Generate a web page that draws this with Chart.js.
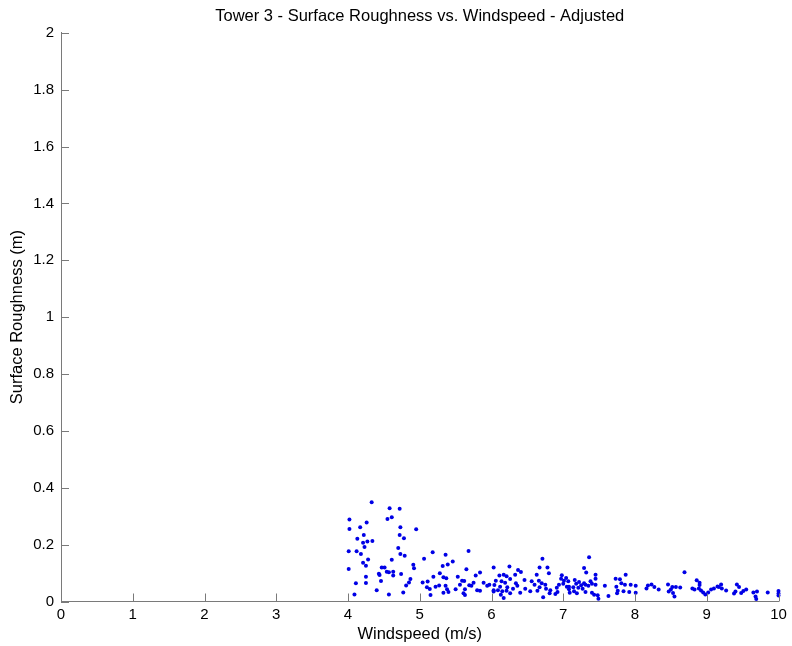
<!DOCTYPE html>
<html>
<head>
<meta charset="utf-8">
<script src="https://cdn.jsdelivr.net/npm/chart.js@4/dist/chart.umd.min.js"></script>
<style>
  html, body { margin: 0; padding: 0; background: #ffffff; }
  #wrap { width: 792px; height: 646px; }
</style>
</head>
<body>
<div id="wrap"><canvas id="c" width="792" height="646"></canvas></div>
<script>
// Windspeed (m/s) and adjusted surface roughness (m), paired sample by sample
const windspeed = [
  4.33, 4.58, 4.72, 4.02, 4.55, 4.61, 4.26, 4.02, 4.17, 4.73, 4.95, 4.22, 4.72, 4.78, 4.13, 4.34,
  4.21, 4.27, 4.23, 4.70, 4.01, 4.12, 4.18, 4.73, 4.79, 4.28, 4.61, 4.21, 4.25, 4.91, 4.92, 4.01,
  4.47, 4.51, 4.43, 4.54, 4.57, 4.63, 4.63, 4.44, 4.74, 4.25, 4.46, 4.87, 4.85, 4.11, 4.25, 4.81,
  4.40, 4.77, 4.09, 4.57,
  5.18, 5.06, 5.36, 5.68, 5.46, 5.39, 5.32, 5.65, 5.19, 5.28, 5.33, 5.37, 5.04, 5.11, 5.53, 5.78,
  5.84, 5.59, 5.62, 5.75, 5.27, 5.36, 5.10, 5.14, 5.22, 5.38, 5.56, 5.69, 5.72, 5.89, 5.94, 5.97,
  5.50, 5.63, 5.80, 5.33, 5.40, 5.61, 5.15, 5.63, 5.84, 6.03,
  6.03, 6.25, 6.71, 6.37, 6.41, 6.67, 6.78, 6.11, 6.17, 6.21, 6.33, 6.63, 6.80, 6.98, 6.06, 6.14,
  6.19, 6.26, 6.34, 6.46, 6.56, 6.66, 6.70, 6.75, 6.97, 7.01, 6.04, 6.12, 6.22, 6.30, 6.36, 6.47,
  6.60, 6.67, 6.76, 6.94, 7.00, 6.03, 6.09, 6.15, 6.21, 6.54, 6.64, 6.82, 6.91, 7.05, 6.17, 6.13,
  6.26, 6.40, 6.72, 6.81, 6.89, 6.92, 7.08,
  7.36, 7.29, 7.32, 7.45, 7.87, 7.45, 7.73, 7.79, 7.04, 7.07, 7.16, 7.22, 7.29, 7.38, 7.40, 7.18,
  7.25, 7.31, 7.81, 7.86, 7.94, 8.01, 7.45, 7.58, 7.08, 7.14, 7.21, 7.27, 7.35, 7.74, 7.76, 7.84,
  7.92, 8.01, 7.09, 7.15, 7.19, 7.31, 7.40, 7.43, 7.48, 7.49, 7.63, 7.75,
  8.69, 8.18, 8.23, 8.27, 8.33, 8.16, 8.46, 8.52, 8.57, 8.63, 8.47, 8.53, 8.55, 8.86, 8.90, 8.80,
  8.83, 8.89, 8.92, 8.95, 8.98, 9.02, 9.06, 9.10, 9.15, 8.50, 8.90,
  9.20, 9.17, 9.21, 9.27, 9.42, 9.45, 9.40, 9.38, 9.48, 9.51, 9.55, 9.65, 9.70, 9.68, 9.69, 9.85,
  10.00, 10.00, 10.00
];
const roughness = [
  0.349, 0.328, 0.326, 0.288, 0.290, 0.296, 0.278, 0.255, 0.261, 0.261, 0.254, 0.234, 0.234, 0.222, 0.221, 0.213,
  0.207, 0.211, 0.192, 0.188, 0.177, 0.177, 0.167, 0.167, 0.161, 0.148, 0.147, 0.136, 0.126, 0.129, 0.117, 0.114,
  0.120, 0.120, 0.098, 0.105, 0.103, 0.105, 0.091, 0.093, 0.097, 0.087, 0.072, 0.079, 0.067, 0.064, 0.065, 0.056,
  0.040, 0.032, 0.025, 0.025,
  0.173, 0.150, 0.164, 0.178, 0.141, 0.130, 0.125, 0.113, 0.087, 0.099, 0.085, 0.082, 0.067, 0.070, 0.087, 0.091,
  0.102, 0.073, 0.072, 0.066, 0.056, 0.055, 0.050, 0.044, 0.052, 0.043, 0.059, 0.057, 0.055, 0.066, 0.055, 0.059,
  0.043, 0.043, 0.040, 0.031, 0.033, 0.029, 0.023, 0.023, 0.038, 0.035,
  0.120, 0.123, 0.150, 0.111, 0.104, 0.120, 0.120, 0.091, 0.094, 0.089, 0.094, 0.094, 0.099, 0.092, 0.073, 0.071,
  0.066, 0.079, 0.064, 0.076, 0.071, 0.073, 0.064, 0.059, 0.080, 0.073, 0.058, 0.052, 0.050, 0.045, 0.055, 0.045,
  0.059, 0.050, 0.045, 0.059, 0.062, 0.040, 0.040, 0.036, 0.038, 0.036, 0.038, 0.040, 0.048, 0.052, 0.012, 0.024,
  0.029, 0.031, 0.015, 0.029, 0.026, 0.033, 0.043,
  0.156, 0.118, 0.102, 0.094, 0.094, 0.080, 0.080, 0.078, 0.083, 0.071, 0.076, 0.069, 0.064, 0.071, 0.062, 0.062,
  0.057, 0.059, 0.064, 0.059, 0.059, 0.055, 0.059, 0.055, 0.052, 0.050, 0.048, 0.045, 0.055, 0.052, 0.038, 0.036,
  0.033, 0.031, 0.031, 0.036, 0.029, 0.033, 0.031, 0.024, 0.022, 0.010, 0.019, 0.029,
  0.103, 0.056, 0.060, 0.051, 0.042, 0.046, 0.060, 0.051, 0.051, 0.049, 0.035, 0.030, 0.018, 0.075, 0.058, 0.046,
  0.042, 0.046, 0.039, 0.032, 0.025, 0.032, 0.042, 0.046, 0.053, 0.042, 0.066,
  0.060, 0.051, 0.046, 0.039, 0.060, 0.051, 0.035, 0.028, 0.030, 0.037, 0.042, 0.032, 0.035, 0.018, 0.009, 0.032,
  0.037, 0.028, 0.021
];
const xTickValues = [0, 1, 2, 3, 4, 5, 6, 7, 8, 9, 10];
const yTickValues = [0, 0.2, 0.4, 0.6, 0.8, 1, 1.2, 1.4, 1.6, 1.8, 2];

const FONT = 'Liberation Sans, Arial, Helvetica, sans-serif';
const AXIS_GREY = '#7a7a7a';
const TICK_LEN = 8;

const points = windspeed.map((w, i) => ({ x: w, y: roughness[i] }));

// Short tick marks drawn inward from the two axis lines
const inwardTicks = {
  id: 'inwardTicks',
  afterDatasetsDraw(chart) {
    const { ctx, chartArea, scales } = chart;
    const { left, bottom } = chartArea;
    ctx.save();
    ctx.strokeStyle = AXIS_GREY;
    ctx.lineWidth = 1;
    ctx.beginPath();
    scales.x.ticks.forEach(t => {
      const px = Math.round(scales.x.getPixelForValue(t.value)) + 0.5;
      ctx.moveTo(px, bottom);
      ctx.lineTo(px, bottom - TICK_LEN);
    });
    scales.y.ticks.forEach(t => {
      const py = Math.round(scales.y.getPixelForValue(t.value)) + 0.5;
      ctx.moveTo(left, py);
      ctx.lineTo(left + TICK_LEN, py);
    });
    ctx.stroke();
    ctx.restore();
  }
};

new Chart(document.getElementById('c'), {
  type: 'scatter',
  data: {
    datasets: [{
      data: points,
      backgroundColor: '#0000e6',
      borderColor: '#0000e6',
      borderWidth: 0,
      pointRadius: 2,
      pointHoverRadius: 2,
      clip: false
    }]
  },
  options: {
    responsive: false,
    animation: false,
    events: [],
    layout: { padding: { left: 0, right: 13.5, top: 0, bottom: 0 } },
    plugins: {
      legend: { display: false },
      tooltip: { enabled: false },
      title: {
        display: true,
        text: 'Tower 3 - Surface Roughness vs. Windspeed - Adjusted',
        color: '#000',
        fullSize: false,
        font: { family: FONT, size: 16.5, weight: 'normal', lineHeight: 1.2 },
        padding: { top: 7, bottom: 6 }
      }
    },
    scales: {
      x: {
        type: 'linear',
        min: 0,
        max: 10,
        afterBuildTicks: s => { s.ticks = xTickValues.map(v => ({ value: v })); },
        afterFit: s => { s.height = 44.5; },
        ticks: {
          color: '#000',
          padding: 4,
          autoSkip: false,
          maxRotation: 0,
          font: { family: FONT, size: 15 },
          callback: v => String(v)
        },
        grid: { display: false, drawTicks: false },
        border: { display: true, color: AXIS_GREY, width: 1 },
        title: {
          display: true,
          text: 'Windspeed (m/s)',
          color: '#000',
          font: { family: FONT, size: 16.5 },
          padding: { top: 0, bottom: 2 }
        }
      },
      y: {
        type: 'linear',
        min: 0,
        max: 2,
        afterBuildTicks: s => { s.ticks = yTickValues.map(v => ({ value: v })); },
        afterFit: s => { s.width = 61; },
        ticks: {
          color: '#000',
          padding: 7,
          autoSkip: false,
          font: { family: FONT, size: 15 },
          callback: v => String(Math.round(v * 10) / 10)
        },
        grid: { display: false, drawTicks: false },
        border: { display: true, color: AXIS_GREY, width: 1 },
        title: {
          display: true,
          text: 'Surface Roughness (m)',
          color: '#000',
          font: { family: FONT, size: 16.5 },
          padding: { top: 8, bottom: 0 }
        }
      }
    }
  },
  plugins: [inwardTicks]
});
</script>
</body>
</html>
